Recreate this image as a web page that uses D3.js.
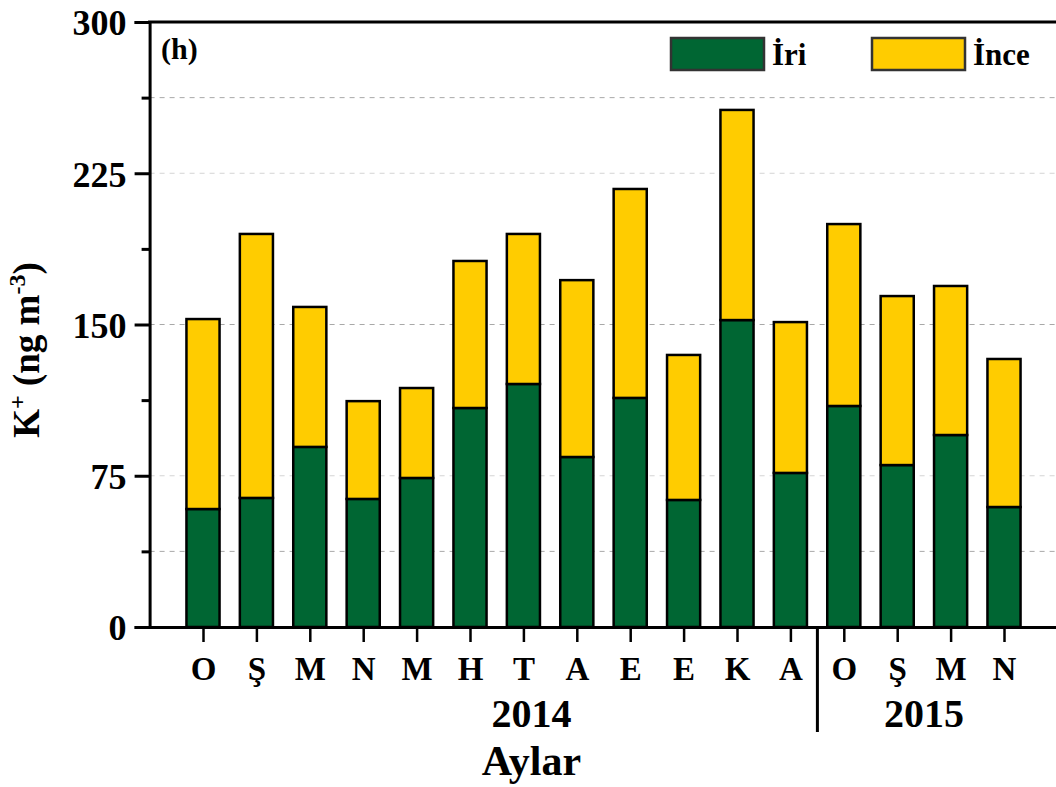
<!DOCTYPE html>
<html>
<head>
<meta charset="utf-8">
<script src="https://cdn.jsdelivr.net/npm/d3@7"></script>
<style>
  html, body { margin: 0; padding: 0; background: #ffffff; }
  svg { display: block; }
</style>
</head>
<body>
<svg id="chart"></svg>
<script>
// Aylar (months) and the two fractions
const months = ['O', 'Ş', 'M', 'N', 'M', 'H', 'T', 'A', 'E', 'E', 'K', 'A', 'O', 'Ş', 'M', 'N'];
const iri = [58.5, 64, 89.3, 63.5, 73.9, 108.6, 120.5, 84.3, 113.6, 63, 152.2, 76.4, 109.6, 80.3, 95.2, 59.5];
const total = [152.7, 194.9, 158.7, 112, 118.5, 181.5, 194.9, 172, 217.2, 134.9, 256.4, 151.2, 199.8, 164.1, 169.1, 132.9];
const ince = total.map((t, i) => +(t - iri[i]).toFixed(1));
const yTicks = [0, 75, 150, 225, 300];
const yMinorTicks = [37.5, 112.5, 187.5, 262.5];
const gridValues = [37.5, 75, 150, 225, 262.5];
const years = [{ label: '2014', at: 7.15 }, { label: '2015', at: 14.5 }];

const W = 1056, H = 787;
const green = '#006633', yellow = '#FFCC00';
const font = '"Liberation Serif", "Times New Roman", serif';

const svg = d3.select('#chart')
  .attr('width', W)
  .attr('height', H)
  .style('font-family', font);

const x = d3.scaleLinear().domain([0, 17]).range([149.6, 1057.4]);
const y = d3.scaleLinear().domain([0, 300]).range([627, 22]);

// dashed gridlines
svg.append('g')
  .selectAll('line')
  .data(gridValues)
  .enter().append('line')
  .attr('x1', x(0)).attr('x2', W)
  .attr('y1', d => y(d)).attr('y2', d => y(d))
  .attr('stroke', d => (d === 225 || d === 75) ? '#d4d4d4' : '#a8a8a8')
  .attr('stroke-width', 1)
  .attr('stroke-dasharray', '5,5');

// stacked bars
const barW = 0.62;
const bars = svg.append('g');
months.forEach((m, i) => {
  const cx = i + 1;
  bars.append('rect')
    .attr('x', x(cx - barW / 2))
    .attr('width', x(barW) - x(0))
    .attr('y', y(iri[i]))
    .attr('height', y(0) - y(iri[i]))
    .attr('fill', green)
    .attr('stroke', '#000')
    .attr('stroke-width', 2.5);
  bars.append('rect')
    .attr('x', x(cx - barW / 2))
    .attr('width', x(barW) - x(0))
    .attr('y', y(iri[i] + ince[i]))
    .attr('height', y(iri[i]) - y(iri[i] + ince[i]))
    .attr('fill', yellow)
    .attr('stroke', '#000')
    .attr('stroke-width', 2.5);
});

// y axis
const yAxis = svg.append('g')
  .attr('transform', `translate(${x(0)},0)`)
  .call(d3.axisLeft(y).tickValues(yTicks).tickSize(15).tickPadding(8));
yAxis.select('.domain').attr('stroke-width', 3);
yAxis.selectAll('.tick line').attr('stroke-width', 3);
yAxis.selectAll('.tick text')
  .attr('font-family', font)
  .attr('font-size', 36)
  .attr('font-weight', 'bold')
  .attr('fill', '#000')
  .attr('dy', '0.36em');

const yMinor = svg.append('g')
  .attr('transform', `translate(${x(0)},0)`)
  .call(d3.axisLeft(y).tickValues(yMinorTicks).tickSize(8).tickFormat(''));
yMinor.select('.domain').remove();
yMinor.selectAll('.tick line').attr('stroke-width', 3);

// x axis
const xAxis = svg.append('g')
  .attr('transform', `translate(0,${y(0)})`)
  .call(d3.axisBottom(x)
    .tickValues(d3.range(1, months.length + 1))
    .tickFormat(d => months[d - 1])
    .tickSize(15).tickSizeOuter(0).tickPadding(15));
xAxis.select('.domain').attr('stroke-width', 3);
xAxis.selectAll('.tick line').attr('stroke-width', 2.5);
xAxis.selectAll('.tick text')
  .attr('font-family', font)
  .attr('font-size', 33)
  .attr('font-weight', 'bold')
  .attr('fill', '#000');

// top frame line
svg.append('line')
  .attr('x1', x(0) - 1.5).attr('x2', W)
  .attr('y1', y(300)).attr('y2', y(300))
  .attr('stroke', '#000')
  .attr('stroke-width', 3);

// year separator
svg.append('line')
  .attr('x1', x(12.5) + 0.3).attr('x2', x(12.5) + 0.3)
  .attr('y1', y(0)).attr('y2', 732)
  .attr('stroke', '#000')
  .attr('stroke-width', 3);

// year labels
svg.selectAll('.year')
  .data(years)
  .enter().append('text')
  .attr('class', 'year')
  .attr('x', d => x(d.at))
  .attr('y', 727)
  .attr('text-anchor', 'middle')
  .attr('font-size', 40)
  .attr('font-weight', 'bold')
  .text(d => d.label);

// axis titles
svg.append('text')
  .attr('x', x(7.15))
  .attr('y', 775)
  .attr('text-anchor', 'middle')
  .attr('font-size', 42)
  .attr('font-weight', 'bold')
  .text('Aylar');

const yTitle = svg.append('text')
  .attr('transform', 'translate(39,350) rotate(-90)')
  .attr('text-anchor', 'middle')
  .attr('font-size', 37)
  .attr('font-weight', 'bold');
yTitle.append('tspan').text('K');
yTitle.append('tspan').attr('font-size', 24).attr('dy', -14).text('+');
yTitle.append('tspan').attr('dy', 14).text(' (ng m');
yTitle.append('tspan').attr('font-size', 24).attr('dy', -14).text('-3');
yTitle.append('tspan').attr('dy', 14).text(')');

// panel tag
svg.append('text')
  .attr('x', 161)
  .attr('y', 59)
  .attr('font-size', 30)
  .attr('font-weight', 'bold')
  .text('(h)');

// legend
const legend = svg.append('g')
  .selectAll('g')
  .data([{ name: 'İri', color: green, x: 671 }, { name: 'İnce', color: yellow, x: 872 }])
  .enter().append('g')
  .attr('transform', d => `translate(${d.x},38)`);

legend.append('rect')
  .attr('width', 93)
  .attr('height', 32)
  .attr('fill', d => d.color)
  .attr('stroke', '#333')
  .attr('stroke-width', 2.5);

legend.append('text')
  .attr('x', 101)
  .attr('y', 27)
  .attr('font-size', 31)
  .attr('font-weight', 'bold')
  .text(d => d.name);
</script>
</body>
</html>
